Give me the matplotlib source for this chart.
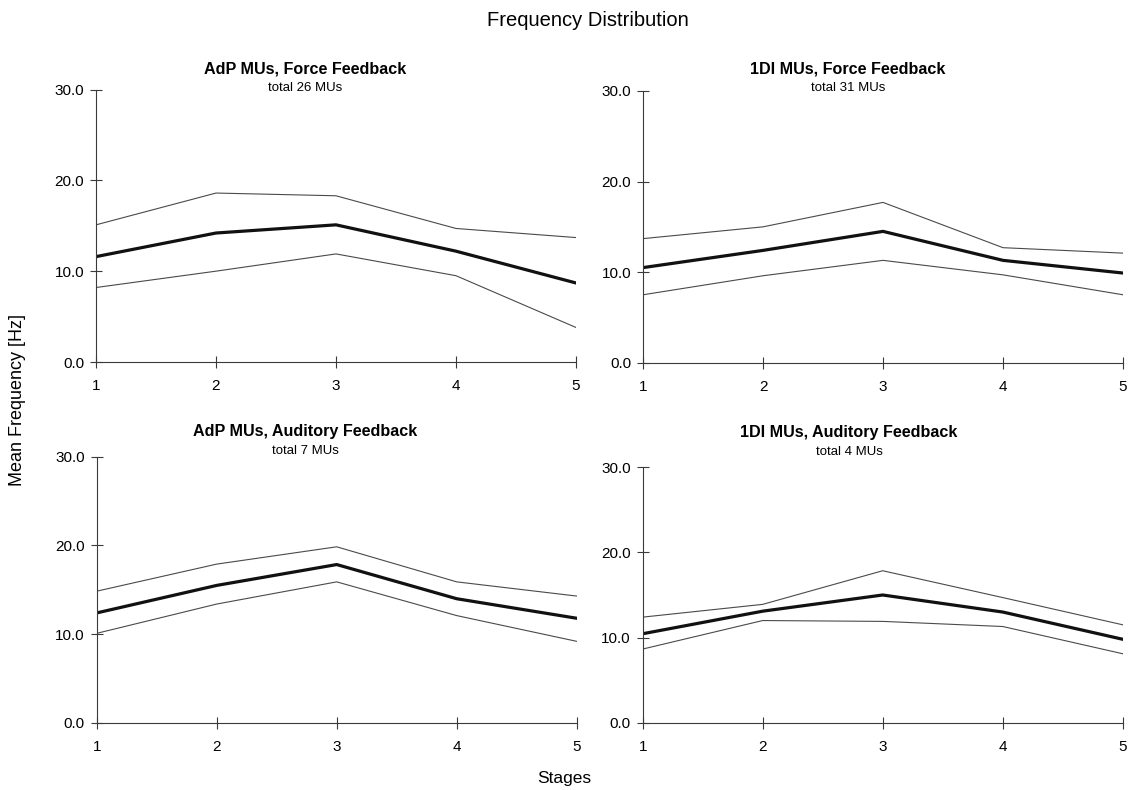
import matplotlib
matplotlib.use("Agg")
import matplotlib.pyplot as plt
from matplotlib.ticker import FormatStrFormatter

plt.rcParams['font.family'] = ['Liberation Sans', 'DejaVu Sans']

stages = [1, 2, 3, 4, 5]

adp_force_mean = [11.6, 14.2, 15.1, 12.2, 8.7]
adp_force_upper = [15.1, 18.6, 18.3, 14.7, 13.7]
adp_force_lower = [8.2, 10.0, 11.9, 9.5, 3.8]

fdi_force_mean = [10.5, 12.4, 14.5, 11.3, 9.9]
fdi_force_upper = [13.7, 15.0, 17.7, 12.7, 12.1]
fdi_force_lower = [7.5, 9.6, 11.3, 9.7, 7.5]

adp_aud_mean = [12.4, 15.5, 17.85, 14.0, 11.8]
adp_aud_upper = [14.85, 17.9, 19.85, 15.9, 14.3]
adp_aud_lower = [10.1, 13.4, 15.9, 12.1, 9.2]

fdi_aud_mean = [10.45, 13.1, 15.0, 13.0, 9.8]
fdi_aud_upper = [12.4, 13.9, 17.85, 14.7, 11.5]
fdi_aud_lower = [8.65, 12.0, 11.9, 11.3, 8.1]

titles = ["AdP MUs, Force Feedback", "1DI MUs, Force Feedback",
          "AdP MUs, Auditory Feedback", "1DI MUs, Auditory Feedback"]
subtitles = ["total 26 MUs", "total 31 MUs", "total 7 MUs", "total 4 MUs"]
y_ticks = [0.0, 10.0, 20.0, 30.0]

panels = [
    (adp_force_mean, adp_force_upper, adp_force_lower),
    (fdi_force_mean, fdi_force_upper, fdi_force_lower),
    (adp_aud_mean, adp_aud_upper, adp_aud_lower),
    (fdi_aud_mean, fdi_aud_upper, fdi_aud_lower),
]

W, H = 1128, 790
fig = plt.figure(figsize=(W / 100, H / 100), dpi=100)

# axes boxes in pixels: left, right, top, bottom
boxes = [
    (96, 576, 89.5, 362),
    (643, 1123, 91, 362.7),
    (96.7, 576.7, 456.7, 723),
    (642.7, 1122.7, 467.3, 722.7),
]
# title / subtitle vertical centres in pixels
title_y = [(69, 88), (69.3, 88.3), (431.7, 450.7), (432.3, 451.7)]
title_x = [305, 848, 305, 849]

axis_col = '#3a3a3a'
for i, (box, (mean, upper, lower)) in enumerate(zip(boxes, panels)):
    l, r, t, b = box
    ax = fig.add_axes([l / W, 1 - b / H, (r - l) / W, (b - t) / H])
    ax.plot(stages, upper, color='#4a4a4a', lw=0.8)
    ax.plot(stages, lower, color='#4a4a4a', lw=0.8)
    ax.plot(stages, mean, color='#111111', lw=2.3)
    ax.set_xlim(1, 5)
    ax.set_ylim(0, 30)
    ax.set_xticks(stages)
    ax.set_yticks(y_ticks)
    ax.yaxis.set_major_formatter(FormatStrFormatter('%.1f'))
    for side in ('top', 'right'):
        ax.spines[side].set_visible(False)
    for side in ('left', 'bottom'):
        ax.spines[side].set_color(axis_col)
        ax.spines[side].set_linewidth(0.8)
    ax.tick_params(axis='both', direction='inout', length=9, width=0.8,
                   color=axis_col, labelsize=11)
    ax.tick_params(axis='x', pad=8)
    ax.tick_params(axis='y', pad=4)
    ax.patch.set_alpha(0)
    fig.text(title_x[i] / W, 1 - title_y[i][0] / H, titles[i],
             ha='center', va='center', fontsize=11.6, fontweight='bold')
    fig.text(title_x[i] / W, 1 - title_y[i][1] / H, subtitles[i],
             ha='center', va='center', fontsize=9.5)

fig.text(588 / W, 1 - 20 / H, "Frequency Distribution",
         ha='center', va='center', fontsize=14.5)
fig.text(18 / W, 1 - 400 / H, "Mean Frequency [Hz]", rotation=90,
         ha='center', va='center', fontsize=13)
fig.text(564 / W, 1 - 778 / H, "Stages", ha='center', va='center', fontsize=12.5)

fig.savefig("out.png", dpi=100, facecolor='white')
